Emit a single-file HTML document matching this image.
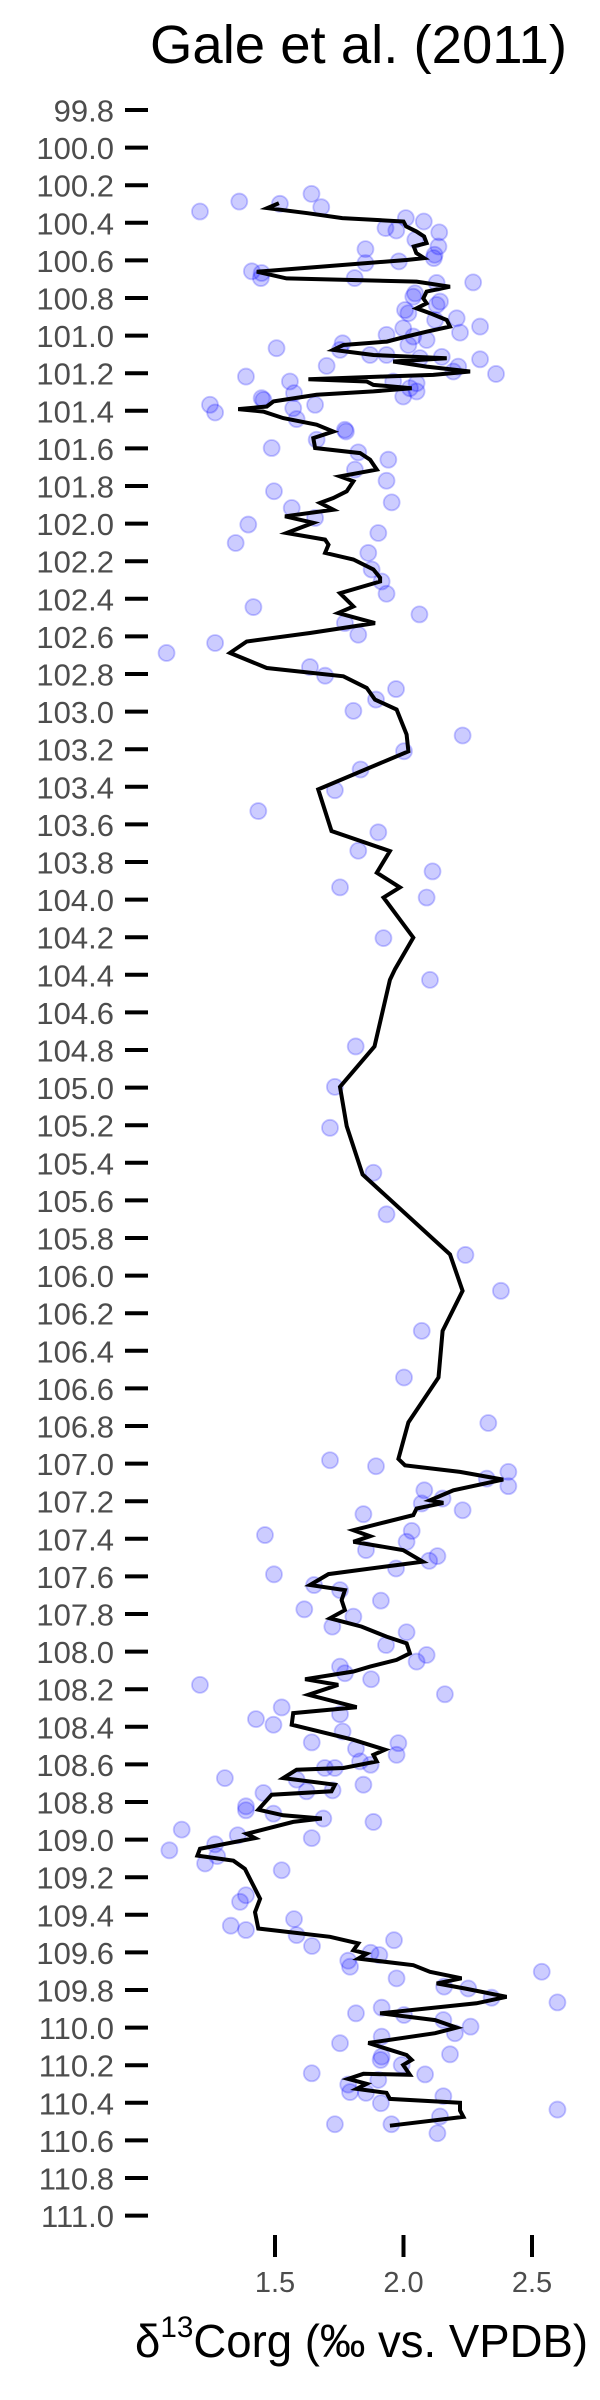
<!DOCTYPE html>
<html><head><meta charset="utf-8"><style>
html,body{margin:0;padding:0;background:#fff;}
svg{display:block;font-family:"Liberation Sans",sans-serif;}
</style></head><body>
<svg id="chart" width="600" height="2400" viewBox="0 0 600 2400" xmlns="http://www.w3.org/2000/svg">
<text x="150" y="63" font-size="54" textLength="417" lengthAdjust="spacingAndGlyphs" fill="#000">Gale et al. (2011)</text>
<g id="yaxis"></g>
<g id="xaxis"></g>
<g id="points"></g>
<path id="line" fill="none" stroke="#000" stroke-width="4" stroke-linejoin="miter"></path>
<text x="135" y="2357" font-size="46" textLength="453" lengthAdjust="spacingAndGlyphs" fill="#000">δ<tspan font-size="30" dy="-20">13</tspan><tspan dy="20">Corg (‰ vs. VPDB)</tspan></text>
</svg>
<script>
const yTicks = [99.8,100.0,100.2,100.4,100.6,100.8,101.0,101.2,101.4,101.6,101.8,102.0,102.2,102.4,102.6,102.8,103.0,103.2,103.4,103.6,103.8,104.0,104.2,104.4,104.6,104.8,105.0,105.2,105.4,105.6,105.8,106.0,106.2,106.4,106.6,106.8,107.0,107.2,107.4,107.6,107.8,108.0,108.2,108.4,108.6,108.8,109.0,109.2,109.4,109.6,109.8,110.0,110.2,110.4,110.6,110.8,111.0];
const xTicks = [1.5,2.0,2.5];
const lineDepth = [100.296,100.322,100.349,100.375,100.393,100.419,100.446,100.473,100.508,100.526,100.561,100.588,100.598,100.660,100.696,100.713,100.740,100.766,100.802,100.828,100.855,100.881,100.917,100.952,100.979,101.005,101.032,101.050,101.076,101.103,101.120,101.138,101.165,101.191,101.209,101.218,101.232,101.244,101.262,101.280,101.297,101.315,101.350,101.377,101.391,101.404,101.439,101.474,101.510,101.545,101.598,101.625,101.660,101.713,101.749,101.775,101.828,101.864,101.890,101.926,101.961,101.996,102.050,102.085,102.112,102.156,102.191,102.244,102.288,102.308,102.370,102.441,102.476,102.529,102.582,102.627,102.688,102.768,102.812,102.874,102.936,102.989,103.122,103.211,103.414,103.635,103.742,103.857,103.935,103.989,104.202,104.370,104.427,104.781,104.996,105.205,105.462,105.887,106.081,106.294,106.542,106.781,106.975,107.009,107.044,107.085,107.142,107.195,107.209,107.239,107.274,107.354,107.386,107.416,107.460,107.522,107.540,107.588,107.646,107.673,107.726,107.779,107.823,107.867,107.920,107.956,108.009,108.044,108.080,108.106,108.147,108.177,108.230,108.296,108.327,108.389,108.469,108.522,108.549,108.584,108.619,108.628,108.673,108.708,108.743,108.761,108.841,108.871,108.888,108.906,108.969,108.992,109.049,109.085,109.112,109.156,109.315,109.386,109.473,109.517,109.552,109.589,109.607,109.633,109.668,109.703,109.738,109.765,109.792,109.836,109.871,109.924,109.960,110.000,110.030,110.082,110.146,110.172,110.199,110.251,110.246,110.273,110.299,110.326,110.347,110.379,110.400,110.441,110.475,110.522];
const lineValue = [1.515,1.47,1.627,1.762,2.00,2.01,2.05,2.08,2.09,2.04,2.05,2.08,2.012,1.429,1.545,2.051,2.181,2.090,2.077,2.090,2.051,2.103,2.168,2.181,2.090,2.012,1.935,1.766,1.727,1.883,2.168,1.960,2.090,2.259,2.116,1.909,1.630,1.857,1.883,2.032,1.883,1.662,1.494,1.468,1.357,1.455,1.532,1.662,1.727,1.649,1.656,1.831,1.870,1.896,1.753,1.805,1.779,1.727,1.675,1.727,1.539,1.649,1.545,1.695,1.708,1.695,1.805,1.883,1.909,1.909,1.753,1.805,1.746,1.889,1.636,1.390,1.325,1.468,1.766,1.857,1.889,1.973,2.012,2.019,1.668,1.720,1.947,1.896,1.986,1.922,2.038,1.967,1.947,1.887,1.753,1.779,1.841,2.181,2.230,2.152,2.136,2.019,1.980,2.006,2.220,2.388,2.194,2.103,2.155,2.051,2.038,1.805,1.870,1.805,1.999,2.075,1.973,1.708,1.636,1.772,1.759,1.772,1.714,1.837,1.934,2.012,2.025,1.973,1.870,1.805,1.617,1.746,1.630,1.818,1.571,1.565,1.805,1.928,1.883,1.896,1.766,1.584,1.532,1.733,1.720,1.487,1.435,1.532,1.682,1.571,1.390,1.422,1.208,1.198,1.338,1.383,1.442,1.422,1.435,1.714,1.824,1.805,1.857,1.824,2.038,2.103,2.226,2.129,2.239,2.401,2.284,1.909,2.123,2.207,2.123,1.863,2.012,2.032,1.999,2.025,1.844,1.785,1.857,1.818,1.934,1.947,2.220,2.220,2.233,1.947];
const pointDepth = [100.340,100.287,100.299,100.246,100.317,100.375,100.393,100.428,100.441,100.451,100.490,100.526,100.540,100.570,100.588,100.605,100.614,100.658,100.667,100.694,100.694,100.717,100.720,100.775,100.793,100.819,100.837,100.864,100.881,100.908,100.917,100.952,100.961,100.984,100.996,101.005,101.023,101.041,101.050,101.067,101.076,101.103,101.103,101.113,101.120,101.126,101.161,101.165,101.191,101.204,101.218,101.244,101.244,101.253,101.280,101.297,101.306,101.324,101.333,101.342,101.368,101.368,101.386,101.409,101.444,101.501,101.510,101.554,101.598,101.621,101.660,101.713,101.772,101.828,101.887,101.917,101.970,102.005,102.050,102.103,102.156,102.244,102.308,102.373,102.444,102.483,102.529,102.591,102.635,102.688,102.763,102.809,102.880,102.936,102.996,103.127,103.211,103.308,103.418,103.529,103.642,103.740,103.850,103.935,103.989,104.205,104.427,104.781,104.996,105.214,105.453,105.674,105.890,106.081,106.294,106.542,106.784,106.982,107.014,107.044,107.080,107.120,107.142,107.186,107.212,107.248,107.269,107.358,107.380,107.416,107.460,107.492,107.517,107.558,107.589,107.646,107.673,107.729,107.775,107.814,107.867,107.897,107.965,108.018,108.053,108.080,108.115,108.147,108.177,108.227,108.297,108.359,108.389,108.333,108.425,108.483,108.487,108.517,108.549,108.584,108.602,108.619,108.619,108.673,108.681,108.708,108.738,108.743,108.752,108.823,108.844,108.862,108.888,108.906,108.947,108.977,108.992,109.025,109.057,109.088,109.127,109.163,109.296,109.331,109.423,109.458,109.481,109.508,109.535,109.566,109.602,109.614,109.644,109.676,109.703,109.738,109.782,109.792,109.841,109.866,109.894,109.924,109.933,109.960,109.995,110.030,110.048,110.083,110.142,110.154,110.172,110.199,110.243,110.249,110.278,110.303,110.343,110.347,110.365,110.402,110.436,110.473,110.514,110.514,110.562];
const pointValue = [1.208,1.361,1.519,1.642,1.680,2.009,2.079,1.930,1.972,2.139,2.046,2.136,1.852,2.121,2.118,1.982,1.852,1.410,1.448,1.445,1.810,2.271,2.129,2.045,2.038,2.142,2.129,2.006,2.019,2.207,2.123,2.298,1.999,2.220,1.934,2.038,2.090,1.763,2.019,1.506,1.753,1.870,1.934,2.149,2.064,2.298,1.701,2.213,2.194,2.360,1.387,1.558,1.960,2.051,2.025,2.051,1.574,1.999,1.448,1.455,1.247,1.656,1.571,1.267,1.584,1.772,1.776,1.662,1.487,1.824,1.941,1.811,1.934,1.496,1.954,1.565,1.656,1.396,1.902,1.347,1.863,1.876,1.915,1.934,1.416,2.062,1.772,1.824,1.267,1.078,1.636,1.695,1.971,1.893,1.805,2.230,2.002,1.833,1.733,1.435,1.902,1.824,2.113,1.753,2.090,1.922,2.103,1.814,1.733,1.714,1.883,1.934,2.241,2.379,2.071,2.002,2.330,1.714,1.893,2.408,2.324,2.408,2.081,2.152,2.071,2.230,1.844,2.032,1.461,2.012,1.854,2.132,2.100,1.971,1.496,1.652,1.753,1.912,1.614,1.805,1.723,2.012,1.932,2.090,2.051,1.753,1.772,1.874,1.208,2.161,1.526,1.426,1.494,1.753,1.763,1.643,1.980,1.815,1.973,1.831,1.872,1.694,1.733,1.305,1.584,1.844,1.724,1.623,1.455,1.387,1.387,1.494,1.688,1.883,1.137,1.355,1.643,1.267,1.089,1.275,1.228,1.526,1.387,1.364,1.574,1.328,1.387,1.584,1.963,1.644,1.872,1.906,1.785,1.792,2.538,1.973,2.158,2.252,2.343,2.599,1.915,1.815,2.002,2.155,2.261,2.200,1.915,1.753,2.181,1.915,1.911,1.993,1.643,2.084,1.902,1.785,1.792,1.854,2.155,1.912,2.599,2.142,1.733,1.953,2.132];

const NS = "http://www.w3.org/2000/svg";
function yScale(d){ return 110 + (d - 99.8) * 188; }
function xScale(v){ return 275 + (v - 1.5) * 257; }

const ya = document.getElementById('yaxis');
yTicks.forEach(function(t){
  const y = yScale(t);
  const tk = document.createElementNS(NS,'line');
  
  
  tk.setAttribute('x1',125); tk.setAttribute('x2',148);
  tk.setAttribute('y1',y); tk.setAttribute('y2',y);
  tk.setAttribute('stroke','#000'); tk.setAttribute('stroke-width','4');
  ya.appendChild(tk);
  const lb = document.createElementNS(NS,'text');
  
  
  lb.setAttribute('x',114); lb.setAttribute('y',y+11.5);
  lb.setAttribute('text-anchor','end'); lb.setAttribute('font-size','31');
  lb.setAttribute('fill','#4d4d4d');
  lb.textContent = t.toFixed(1);
  ya.appendChild(lb);
});
const xa = document.getElementById('xaxis');
xTicks.forEach(function(t){
  const x = xScale(t);
  const tk = document.createElementNS(NS,'line');
  
  
  tk.setAttribute('x1',x); tk.setAttribute('x2',x);
  tk.setAttribute('y1',2235); tk.setAttribute('y2',2257);
  tk.setAttribute('stroke','#000'); tk.setAttribute('stroke-width','4');
  xa.appendChild(tk);
  const lb = document.createElementNS(NS,'text');
  
  
  lb.setAttribute('x',x); lb.setAttribute('y',2292);
  lb.setAttribute('text-anchor','middle'); lb.setAttribute('font-size','29');
  lb.setAttribute('fill','#4d4d4d');
  lb.textContent = t.toFixed(1);
  xa.appendChild(lb);
});
const pg = document.getElementById('points');
pointDepth.forEach(function(d,i){
  const c = document.createElementNS(NS,'circle');
  
  
  c.setAttribute('cx', xScale(pointValue[i]));
  c.setAttribute('cy', yScale(d));
  c.setAttribute('r', 8);
  c.setAttribute('fill','rgba(0,0,255,0.2)');
  c.setAttribute('stroke','rgba(0,0,255,0.22)');
  c.setAttribute('stroke-width','1.8');
  pg.appendChild(c);
});
let dstr = '';
lineDepth.forEach(function(d,i){
  dstr += (i ? 'L' : 'M') + xScale(lineValue[i]).toFixed(1) + ',' + yScale(d).toFixed(1);
});
document.getElementById('line').setAttribute('d', dstr);
</script>
</body></html>
